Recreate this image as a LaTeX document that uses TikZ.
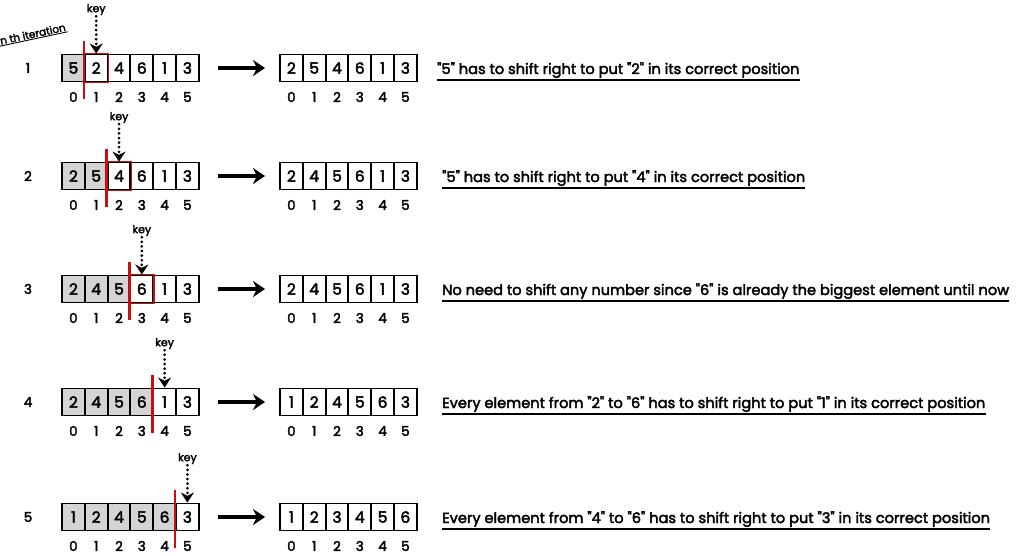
\documentclass[tikz,border=0pt]{standalone}
\usepackage{fontspec}
\setmainfont{Poppins}
\newfontfamily\medfont{Poppins}[FakeBold=2.6]
\usetikzlibrary{arrows.meta,positioning,calc}
\definecolor{keyred}{RGB}{200,14,14}
\definecolor{sortedgray}{RGB}{212,212,212}
\newcommand\dq{\char34\relax}
\tikzset{
  >={Stealth[length=12pt,width=16pt]},
  cell/.style={draw, line width=1.9pt, minimum width=22.8pt, minimum height=27pt,
               inner sep=0pt, font=\fontsize{15.5}{15.5}\medfont},
  idx/.style={inner sep=0pt, font=\fontsize{13.5}{13.5}\medfont},
  keylabel/.style={inner sep=1pt, font=\fontsize{11}{11}\medfont},
  note/.style={anchor=base west, inner sep=0pt, font=\fontsize{14.6}{14.6}\medfont},
  divider/.style={draw=keyred, line width=2.6pt},
  keybox/.style={draw=keyred, line width=1.6pt},
  keyarrow/.style={line width=3pt, dash pattern=on 0pt off 4.6pt, line cap=round,
                   -{Stealth[length=10pt,width=13pt,line cap=butt]}},
}

\begin{document}
\begin{tikzpicture}[x=1pt, y=-1pt]
  \useasboundingbox (0,0) rectangle (1024,555);
  % header
  \node[rotate=12, inner sep=1pt, font=\fontsize{10.5}{10.5}\medfont, anchor=west] (hdr) at (-1,41) {n th iteration};
  \draw[line width=0.9pt] (hdr.south west) -- (hdr.south east);

  \foreach \r/\y/\k/\hl/\tx/\pre/\post/\msg in {
    1/68/1/1/437/{5,2,4,6,1,3}/{2,5,4,6,1,3}/{\dq5\dq{} has to shift right to put \dq2\dq{} in its correct position},
    2/176/2/1/442/{2,5,4,6,1,3}/{2,4,5,6,1,3}/{\dq5\dq{} has to shift right to put \dq4\dq{} in its correct position},
    3/289/3/1/442/{2,4,5,6,1,3}/{2,4,5,6,1,3}/{No need to shift any number since \dq6\dq{} is already the biggest element until now},
    4/402/4/0/442/{2,4,5,6,1,3}/{1,2,4,5,6,3}/{Every element from \dq2\dq{} to \dq6\dq{} has to shift right to put \dq1\dq{} in its correct position},
    5/517/5/0/442/{1,2,4,5,6,3}/{1,2,3,4,5,6}/{Every element from \dq4\dq{} to \dq6\dq{} has to shift right to put \dq3\dq{} in its correct position}}
  {
    \node (n\r) at (28,\y) {\fontsize{13.5}{13.5}\medfont\r};
    % array before the step
    \foreach \v [count=\i from 0] in \pre {
      \ifnum\i<\k \def\cfill{sortedgray}\else\def\cfill{white}\fi
      \node[cell, fill=\cfill] (L\r-\i) at ({62+22.8*(\i+0.5)},\y) {\v};
      \node[idx] (a\r-\i) at ({62+22.8*(\i+0.5)},\y+29) {\i};
    }
    % array after the step
    \foreach \v [count=\i from 0] in \post {
      \node[cell] (R\r-\i) at ({280+22.8*(\i+0.5)},\y) {\v};
      \node[idx] (b\r-\i) at ({280+22.8*(\i+0.5)},\y+29) {\i};
    }
    \draw[->, line width=3.2pt, shorten <=18pt, shorten >=14pt] (L\r-5.east) -- (R\r-0.west);
    % key marker
    \ifnum\hl=1 \draw[keybox] (L\r-\k.north west) rectangle (L\r-\k.south east); \fi
    \coordinate (t\r) at ($(L\r-\k.north west)+(0,-13)$);
    \coordinate (u\r) at ($(L\r-\k.south west)+(0,17)$);
    \draw[divider] (t\r) -- (u\r);
    \node[keylabel] (key\r) at ($(L\r-\k.north)+(0,-44)$) {key};
    \draw[keyarrow] (key\r.south) -- (L\r-\k.north);
    % explanation
    \node[note] (m\r) at (\tx,\y+6) {\msg};
    \draw[line width=1.1pt] ($(m\r.base west)+(0,6)$) -- ($(m\r.base east)+(0,6)$);
  }
\end{tikzpicture}
\end{document}
